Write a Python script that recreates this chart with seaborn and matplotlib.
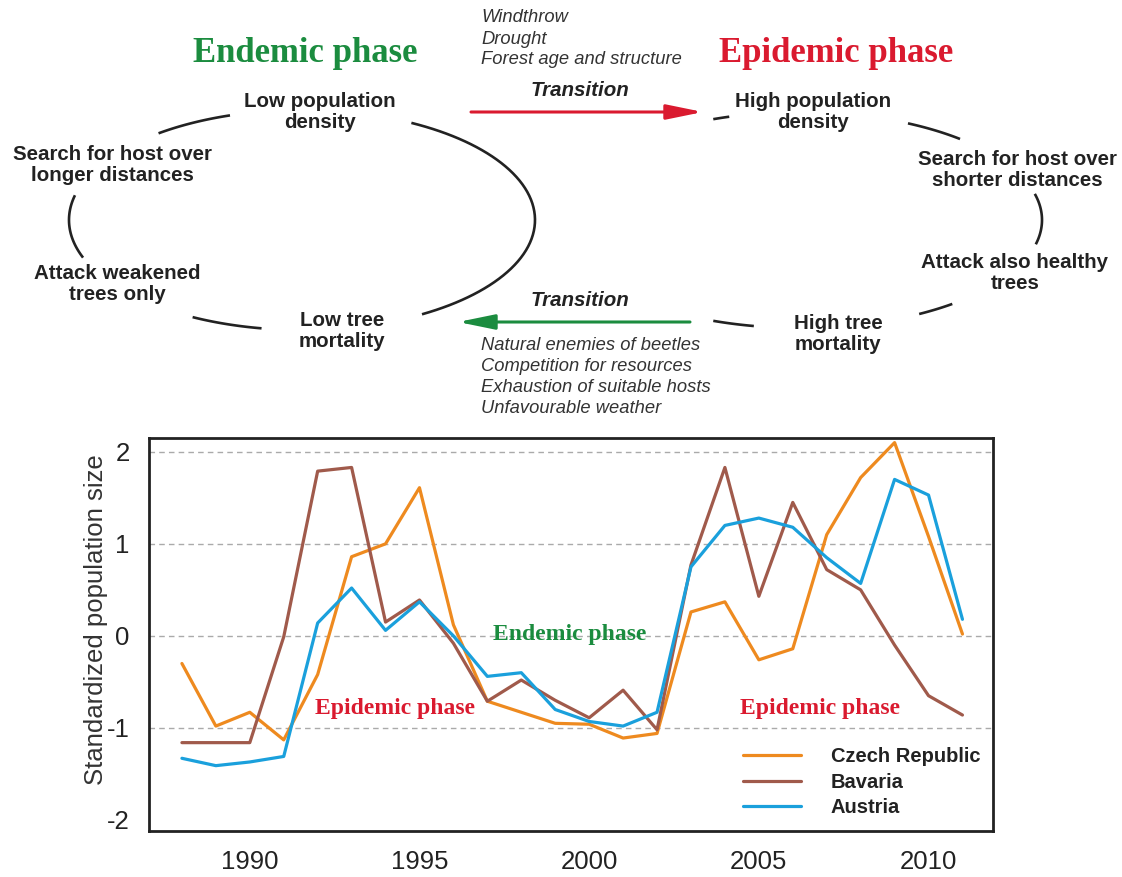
"""
Bark beetle population phases: conceptual cycle on top, standardized
population size time series for three regions below.
"""

import numpy as np
import pandas as pd
import seaborn as sns
import matplotlib.pyplot as plt

years = list(range(1988, 2012))
czech = [-0.30, -0.98, -0.83, -1.13, -0.42, 0.86, 1.00, 1.61, 0.12, -0.71, -0.83, -0.95,
         -0.96, -1.11, -1.06, 0.26, 0.37, -0.26, -0.14, 1.10, 1.72, 2.10, 1.08, 0.02]
bavaria = [-1.16, -1.16, -1.16, -0.01, 1.79, 1.83, 0.15, 0.39, -0.08, -0.71, -0.48, -0.70,
           -0.89, -0.59, -1.02, 0.77, 1.83, 0.43, 1.45, 0.72, 0.50, -0.10, -0.65, -0.86]
austria = [-1.33, -1.41, -1.37, -1.31, 0.14, 0.52, 0.06, 0.37, 0.00, -0.44, -0.40, -0.80,
           -0.93, -0.98, -0.83, 0.75, 1.20, 1.28, 1.18, 0.85, 0.57, 1.70, 1.53, 0.18]
regions = ["Czech Republic", "Bavaria", "Austria"]
xticks = [1990, 1995, 2000, 2005, 2010]
yticks = [-2, -1, 0, 1, 2]
gridlines = [-1, 0, 1, 2]

triggers = ["Windthrow", "Drought", "Forest age and structure"]
regulators = ["Natural enemies of beetles", "Competition for resources",
              "Exhaustion of suitable hosts", "Unfavourable weather"]

ORANGE = "#EE8A1F"
BROWN = "#A05A4B"
BLUE = "#1AA0DC"
GREEN = "#1B8C3F"
RED = "#DA1A2F"
DARK = "#222222"

def make_frame():
	rows = []
	for name, vals in zip(regions, [czech, bavaria, austria]):
		for y, v in zip(years, vals):
			rows.append({"year": y, "value": v, "region": name})
	return pd.DataFrame(rows)

def ellipse_arc(ax, cx, cy, rx, ry, t0, t1):
	t = np.radians(np.linspace(t0, t1, 60))
	ax.plot(cx + rx * np.cos(t), cy + ry * np.sin(t), color=DARK, lw=1.9,
		solid_capstyle="butt")

def draw_diagram(ax):
	ax.set_xlim(0, 1122)
	ax.set_ylim(877, 0)
	ax.axis("off")

	serif = ["Liberation Serif", "DejaVu Serif"]
	ax.text(305, 53, "Endemic phase", color=GREEN, fontsize=25, fontweight="bold",
		family=serif, ha="center", va="center")
	ax.text(836, 53, "Epidemic phase", color=RED, fontsize=25, fontweight="bold",
		family=serif, ha="center", va="center")

	nodes = [("Low population\ndensity", 320, 112),
		("Search for host over\nlonger distances", 112, 165),
		("Attack weakened\ntrees only", 117, 284),
		("Low tree\nmortality", 342, 331),
		("High population\ndensity", 813, 112),
		("Search for host over\nshorter distances", 1017, 170),
		("Attack also healthy\ntrees", 1015, 273),
		("High tree\nmortality", 838, 334)]
	for label, x, y in nodes:
		ax.text(x, y, label, color=DARK, fontsize=14.8, fontweight="bold",
			ha="center", va="center", linespacing=1.15)

	# left (endemic) cycle
	for t0, t1 in [(-62, 59), (-128, -108), (160, 193), (100, 118)]:
		ellipse_arc(ax, 302, 220, 233, 110, t0, t1)
	# right (epidemic) cycle
	for t0, t1 in [(-111, -107), (-63.5, -48.6), (-14, 13), (51, 60.5), (101, 111)]:
		ellipse_arc(ax, 800, 220, 242, 108, t0, t1)

	for i, s in enumerate(triggers):
		ax.text(481, 18 + 21 * i, s, color="#333333", fontsize=13.2, style="italic",
			ha="left", va="center")
	for i, s in enumerate(regulators):
		ax.text(481, 345 + 21.3 * i, s, color="#333333", fontsize=13.2, style="italic",
			ha="left", va="center")

	ax.text(580, 90, "Transition", color=DARK, fontsize=14.8, fontweight="bold",
		style="italic", ha="center", va="center")
	ax.text(580, 300, "Transition", color=DARK, fontsize=14.8, fontweight="bold",
		style="italic", ha="center", va="center")

	ax.annotate("", xy=(703, 112), xytext=(471, 112),
		arrowprops=dict(arrowstyle="-|>,head_length=2.2,head_width=0.45", color=RED,
			lw=2.2, shrinkA=0, shrinkB=0, mutation_scale=10))
	ax.annotate("", xy=(458, 322), xytext=(690, 322),
		arrowprops=dict(arrowstyle="-|>,head_length=2.2,head_width=0.45", color=GREEN,
			lw=2.2, shrinkA=0, shrinkB=0, mutation_scale=10))

def draw_chart(ax, df):
	for g in gridlines:
		ax.axhline(g, ls=(0, (4, 3)), color="#aaaaaa", lw=1, zorder=0)
	sns.lineplot(data=df, x="year", y="value", hue="region", hue_order=regions,
		palette=[ORANGE, BROWN, BLUE], linewidth=2.3, ax=ax)
	ax.set_xlim(1987.03, 2011.9)
	ax.set_ylim(-2.12, 2.15)
	ax.set_xticks(xticks)
	ax.set_yticks(yticks)
	ax.set_xlabel("")
	ax.set_ylabel("Standardized population size", fontsize=18.5, color="#333333")
	ax.yaxis.set_label_coords(-0.049, 0.537)
	ax.grid(False)
	for sp in ax.spines.values():
		sp.set_visible(True)
		sp.set_color(DARK)
		sp.set_linewidth(2)
	ax.tick_params(direction="out", length=8, width=2, labelsize=18.5, colors=DARK,
		labelcolor="#222222", pad=6)

	serif = ["Liberation Serif", "DejaVu Serif"]
	ax.text(1999.44, 0.02, "Endemic phase", color=GREEN, fontsize=17, fontweight="bold",
		family=serif, ha="center", va="center")
	ax.text(1994.28, -0.79, "Epidemic phase", color=RED, fontsize=17, fontweight="bold",
		family=serif, ha="center", va="center")
	ax.text(2006.8, -0.79, "Epidemic phase", color=RED, fontsize=17, fontweight="bold",
		family=serif, ha="center", va="center")

	handles, labels = ax.get_legend_handles_labels()
	leg = ax.legend(handles, labels, loc="upper left", bbox_to_anchor=(0.704, 0.213),
		frameon=False, prop={"weight": "bold", "size": 14.5}, handlelength=2.85,
		handletextpad=1.5, labelspacing=0.32, borderpad=0, borderaxespad=0)
	for t in leg.get_texts():
		t.set_color(DARK)

def main():
	sns.set_style("white")
	plt.rcParams["font.family"] = ["Liberation Sans", "DejaVu Sans"]
	plt.rcParams["axes.unicode_minus"] = False

	df = make_frame()
	fig = plt.figure(figsize=(11.22, 8.77), dpi=100)
	over = fig.add_axes([0, 0, 1, 1])
	over.patch.set_alpha(0)
	draw_diagram(over)

	ax = fig.add_axes([149 / 1122, 1 - 831 / 877, (993 - 149) / 1122, (831 - 438) / 877])
	draw_chart(ax, df)
	fig.savefig("out.png", dpi=100)

if __name__ == "__main__":
	main()
